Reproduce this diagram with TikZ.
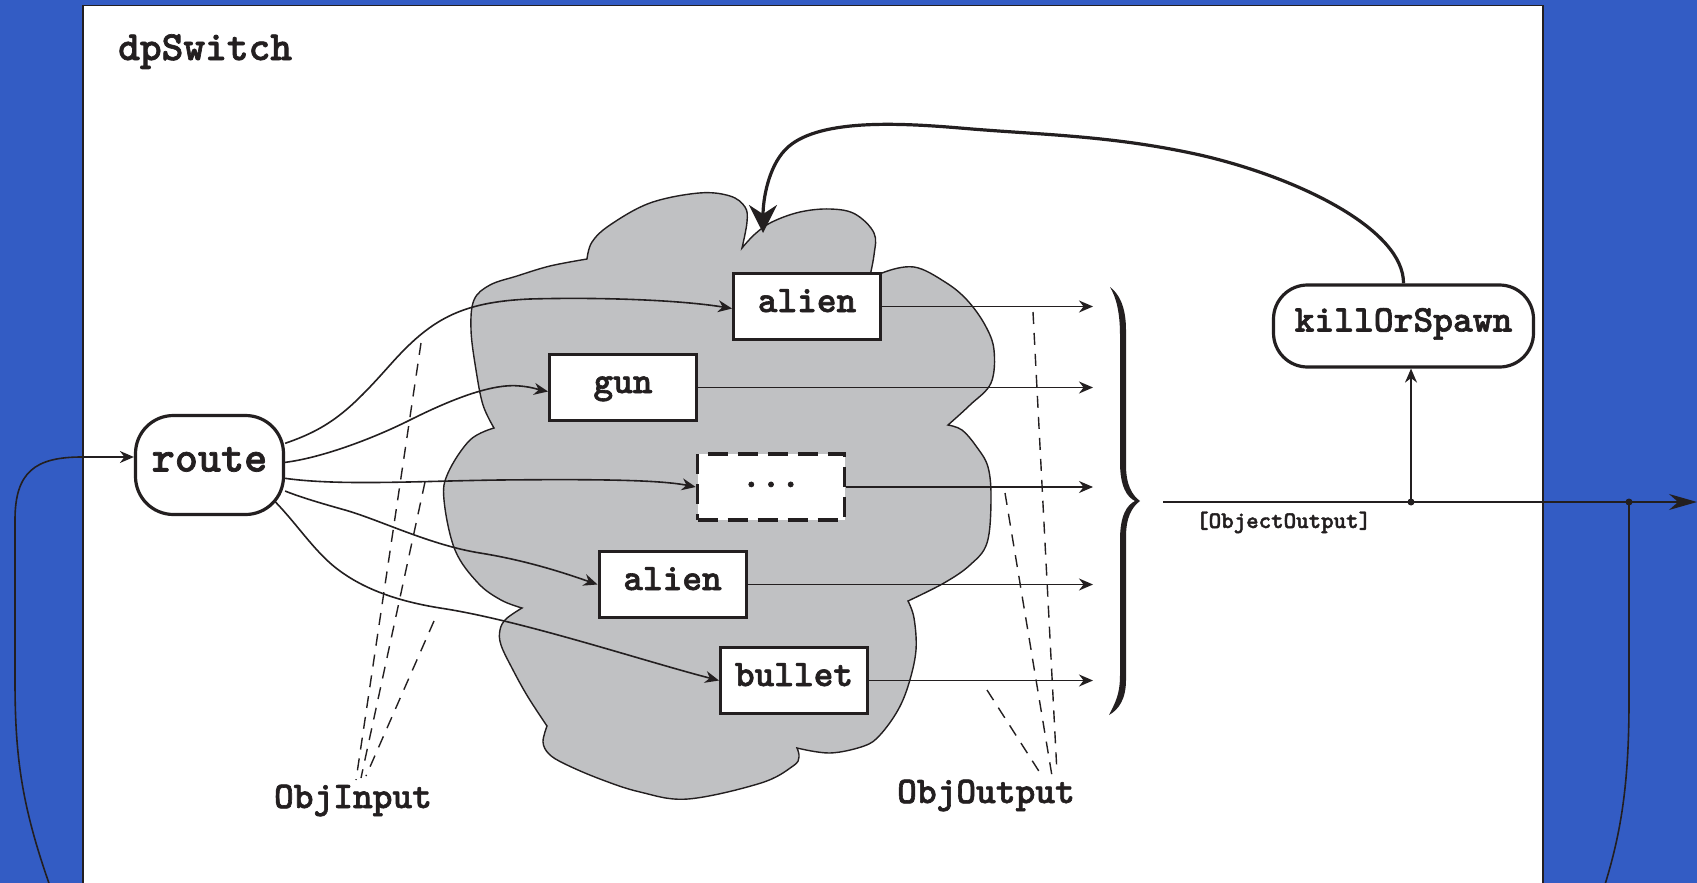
\documentclass[tikz,border=0pt]{standalone}
\usepackage{fontspec}
\usetikzlibrary{arrows.meta,calc}
\newfontfamily\courb{lmmonolt10-bold.otf}[FakeBold=1.6]
\definecolor{ink}{HTML}{231F20}
\definecolor{bgblue}{RGB}{51,92,196}
\definecolor{cloudgray}{RGB}{192,193,195}
\newcommand\mytt[1]{\fontsize{#1pt}{#1pt}\courb}
\begin{document}
\begin{tikzpicture}[x=1pt,y=-1pt,
  thinline/.style={draw=ink, line width=1.6pt},
  arr/.style={thinline, -{Stealth[length=14pt,width=12pt]}},
  leader/.style={draw=ink, line width=1.4pt, dash pattern=on 12pt off 9pt},
  box/.style={draw=ink, line width=3pt, fill=white, minimum width=147pt, minimum height=66pt,
    inner sep=0pt, text height=22pt, text depth=11pt, text=ink, font=\mytt{37.5}},
  dotbox/.style={box, dash pattern=on 20pt off 10pt, line width=3.5pt, text height=0pt, text depth=0pt},
  rbox/.style={draw=ink, line width=3.2pt, fill=white, inner sep=0pt, text=ink},
  label/.style={inner sep=0pt, text=ink}
]
\useasboundingbox (0,0) rectangle (1697,883);
\fill[bgblue] (0,0) rectangle (1697,883);
\draw[ink, line width=1.5pt, fill=white] (83,5.5) rectangle (1543,900);

% cloud
\filldraw[fill=cloudgray, draw=ink, line width=1.4pt]
  plot[smooth, tension=0.6] coordinates {(587,259) (592,242) (610,225) (650,203) (699,193) (730,196) (745,207) (747,222) (742,248)}
  -- plot[smooth, tension=0.6] coordinates {(742,248) (755,234) (772,222) (800,212) (830,209) (855,214) (874,233) (874,255) (868,285)}
  -- plot[smooth, tension=0.6] coordinates {(868,285) (882,273) (914,267) (945,282) (967,300) (985,325) (994,350) (991,383) (970,405) (948,425)}
  -- plot[smooth, tension=0.6] coordinates {(948,425) (962,430) (976,446) (988,467) (991,500) (987,543) (970,565) (944,583) (908,601)}
  -- plot[smooth, tension=0.6] coordinates {(908,601) (914,618) (916,650) (909,683) (898,710) (880,735) (864,746) (830,753) (797,748)}
  -- plot[smooth, tension=0.6] coordinates {(797,748) (799,757) (793,766) (761,783) (688,799) (640,792) (600,779) (565,764) (549,754) (543,742) (547,726)}
  -- plot[smooth, tension=0.6] coordinates {(547,726) (528,697) (513,670) (501,645) (500,630) (506,619) (522,608)}
  -- plot[smooth, tension=0.6] coordinates {(522,608) (501,600) (478,583) (455,550) (444,500) (448,473) (470,440) (494,428)}
  -- plot[smooth, tension=0.6] coordinates {(494,428) (483,405) (476,370) (471,330) (474,300) (490,285) (517,276) (550,266) (587,259)}
  -- cycle;

% title and labels
\node[label, anchor=base west, font=\mytt{41.4}] (title) at (118,60) {dpSwitch};
\node[label, anchor=base, font=\mytt{37.6}] (objin) at (353,808) {ObjInput};
\node[label, anchor=base, font=\mytt{37.6}] (objout) at (986,803) {ObjOutput};
\node[label, anchor=base west, font=\mytt{23.8}] (objlbl) at (1196,528) {[ObjectOutput]};

% leader lines
\coordinate (ia1) at (421,343); \coordinate (ia2) at (425,482); \coordinate (ia3) at (434,621);
\coordinate (ib1) at (356,780); \coordinate (ib2) at (361,778); \coordinate (ib3) at (366,776);
\draw[leader] (ia1) -- (ib1);
\draw[leader] (ia2) -- (ib2);
\draw[leader] (ia3) -- (ib3);
\coordinate (oa1) at (1033,312); \coordinate (oa2) at (1005,493); \coordinate (oa3) at (987,690);
\coordinate (ob1) at (1057,773); \coordinate (ob2) at (1052,776); \coordinate (ob3) at (1042,776);
\draw[leader] (oa1) -- (ob1);
\draw[leader] (oa2) -- (ob2);
\draw[leader] (oa3) -- (ob3);

% nodes
\node[box] (alien1) at (807,306.5) {alien};
\node[box] (gun) at (623,387.5) {gun};
\node[dotbox] (dots) at (771,487) {...};
\node[box] (alien2) at (672.5,584.5) {alien};
\node[box] (bullet) at (794,680.5) {bullet};
\node[rbox, minimum width=148pt, minimum height=99pt, rounded corners=38pt,
  text height=26pt, text depth=13pt, font=\mytt{44}] (route) at (209.5,465) {route};
\node[rbox, minimum width=260pt, minimum height=82pt, rounded corners=34pt,
  text height=22pt, text depth=11pt, font=\mytt{37.7}] (ks) at (1403.5,326) {killOrSpawn};

% route to objects
\draw[arr] (route.16) .. controls (330,428) and (350,410) .. (390,365) .. controls (430,320) and (460,302) .. (530,299) .. controls (600,297) and (680,300) .. ($(alien1.west)+(0,2)$);
\draw[arr] (route.2) .. controls (320,458) and (370,440) .. (410,420) .. controls (450,400) and (492,383) .. (520,386) .. controls (532,387) and (540,390) .. ($(gun.west)+(0,4)$);
\draw[arr] (route.-10) .. controls (340,486) and (420,481) .. (500,480) .. controls (600,479) and (660,480) .. (dots.west);
\draw[arr] (route.-19) .. controls (300,497) and (320,503) .. (345,510) .. controls (380,520) and (430,545) .. (480,553) .. controls (530,561) and (570,575) .. (alien2.west);
\draw[arr] ($(route.center)+(65,36)$) .. controls (295,522) and (310,545) .. (330,563) .. controls (355,585) and (390,600) .. (440,608) .. controls (520,620) and (640,660) .. (bullet.west);

% outputs
\coordinate (tipx) at (1093,0);
\draw[arr] (alien1.east) -- (alien1.east -| tipx);
\draw[arr] (gun.east) -- (gun.east -| tipx);
\draw[arr] (dots.east) -- (dots.east -| tipx);
\draw[arr] (alien2.east) -- (alien2.east -| tipx);
\draw[arr] (bullet.east) -- (bullet.east -| tipx);

% brace
\fill[ink] (1110,287) .. controls (1118,293) and (1126,305) .. (1126,330) -- (1126,465)
  .. controls (1126,485) and (1132,495) .. (1140,501) .. controls (1132,507) and (1126,517) .. (1126,537)
  -- (1126,680) .. controls (1126,700) and (1118,710) .. (1109,715)
  .. controls (1115,703) and (1120,695) .. (1120,675) -- (1120,540)
  .. controls (1120,515) and (1127,505) .. (1135,501) .. controls (1127,497) and (1120,487) .. (1120,462)
  -- (1120,335) .. controls (1120,312) and (1116,297) .. (1110,287) -- cycle;

% output bus
\coordinate (busL) at (1163,502);
\coordinate (busR) at (1697,502);
\coordinate (dot1) at (1411,502);
\coordinate (dot2) at (1629,502);
\draw[thinline, -{Stealth[length=28pt,width=16pt]}] (busL) -- (busR);
\fill[ink] (dot1) circle (3.5pt);
\fill[ink] (dot2) circle (3.5pt);
\draw[arr] (dot1) -- (dot1 |- ks.south);
\coordinate (loopR) at (1600,900);
\draw[thinline] (dot2) -- (1629,700) .. controls (1629,790) and (1620,840) .. (loopR);
\coordinate (loopL) at (55,900);
\draw[arr] (loopL) .. controls (22,810) and (15,760) .. (15,680) -- (15,520) .. controls (15,472) and (35,457) .. (82,457) -- ($(route.west)+(0,-8)$);

% feedback
\coordinate (cloudtop) at (763,233);
\draw[ink, line width=3.2pt, -{Stealth[length=28pt,width=28pt]}] (ks.north) .. controls (1404,230) and (1300,178) .. (1200,155)
  .. controls (1110,135) and (1040,135) .. (960,128) .. controls (900,123) and (815,118) .. (785,150)
  .. controls (768,168) and (763,200) .. (cloudtop);
\end{tikzpicture}
\end{document}
